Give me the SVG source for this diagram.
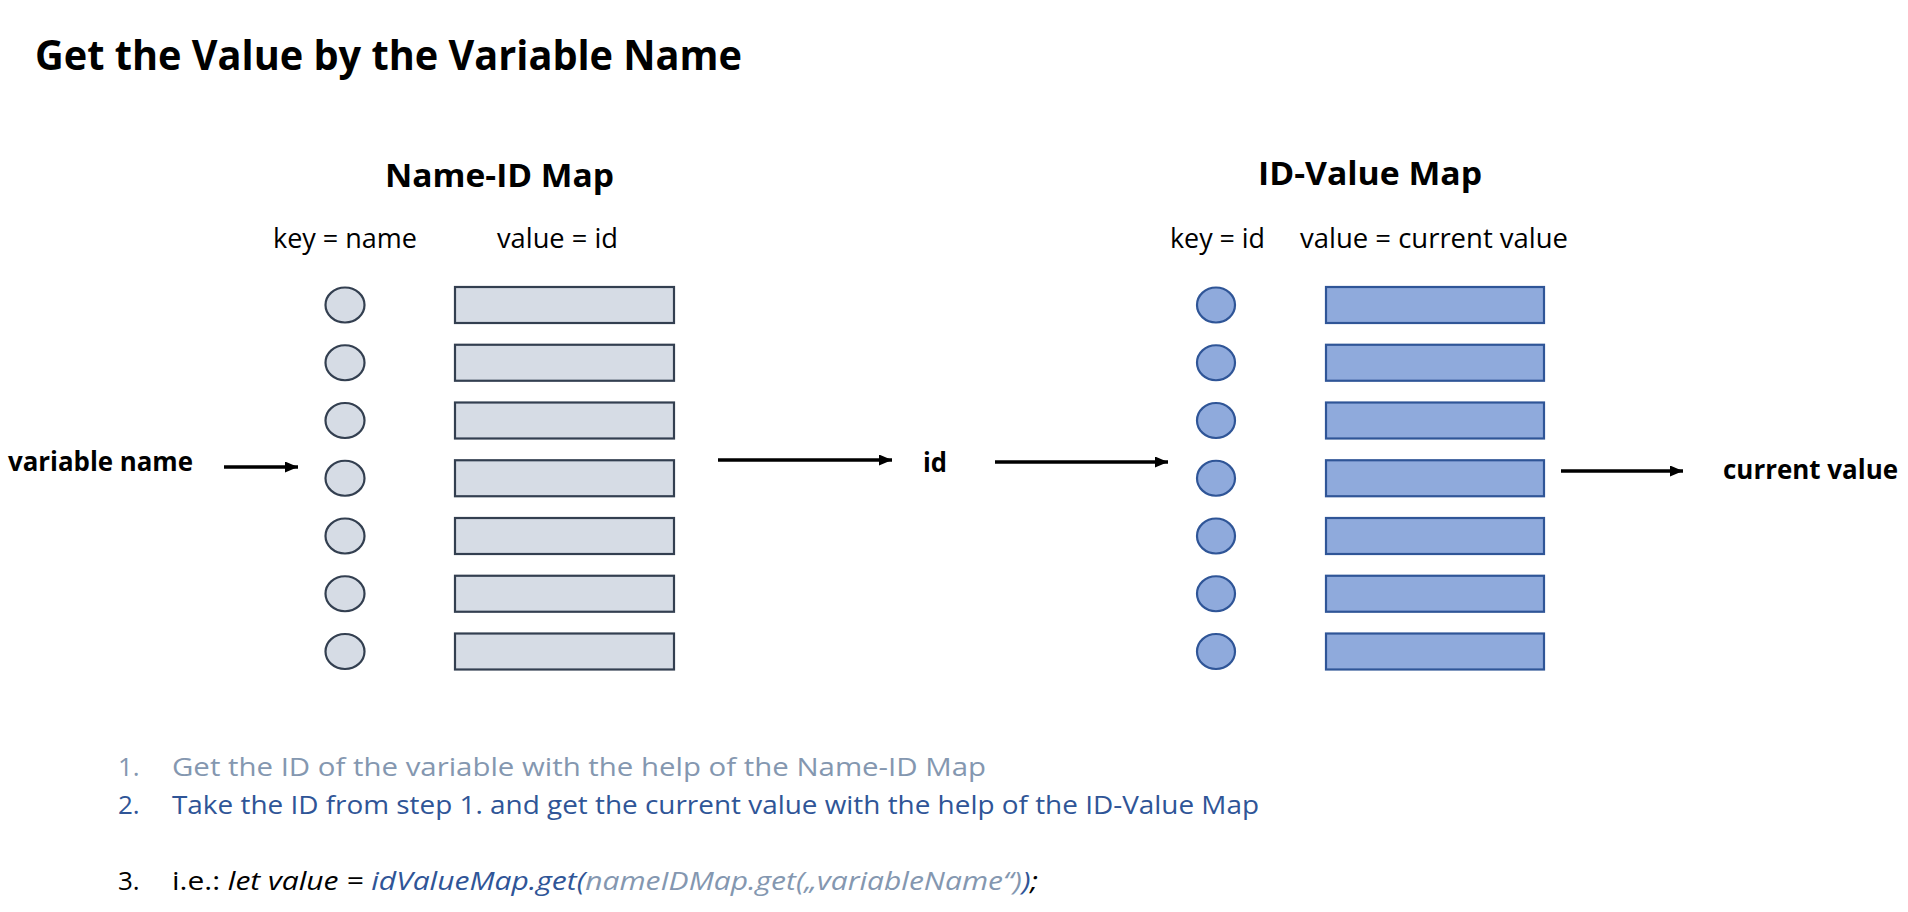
<svg xmlns="http://www.w3.org/2000/svg" width="1908" height="912" viewBox="0 0 1908 912">
<defs>
<style>
.t{font-family:"Open Sans","Liberation Sans",sans-serif;fill:#000}
.b{font-weight:bold}
.kl{fill:#D6DCE5;stroke:#333F50;stroke-width:2.2}
.kr{fill:#8FAADC;stroke:#2F5597;stroke-width:2.2}
.ar{stroke:#000;stroke-width:3.6;fill:none;marker-end:url(#ah)}
.g{fill:#8497B0}
.bl{fill:#2F5597}
</style>
<marker id="ah" markerUnits="userSpaceOnUse" markerWidth="13" markerHeight="11" refX="13" refY="5.5" orient="auto" viewBox="0 0 13 11">
<path d="M0,0 L13,5.5 L0,11 z" fill="#000"/>
</marker>
</defs>
<rect width="1908" height="912" fill="#fff"/>
<g id="title"><text class="t b" x="35" y="70" font-size="41" textLength="707" lengthAdjust="spacingAndGlyphs">Get the Value by the Variable Name</text></g>
<g id="nameIdMap">
<text class="t b" x="385" y="187" font-size="32" textLength="229" lengthAdjust="spacingAndGlyphs">Name-ID Map</text>
<text class="t" x="273" y="248" font-size="27" textLength="144" lengthAdjust="spacingAndGlyphs">key = name</text>
<text class="t" x="497" y="248" font-size="27" textLength="121" lengthAdjust="spacingAndGlyphs">value = id</text>
<ellipse class="kl" cx="345" cy="305" rx="19.5" ry="17.5"/><rect class="kl" x="455" y="287" width="219" height="36"/>
<ellipse class="kl" cx="345" cy="362.75" rx="19.5" ry="17.5"/><rect class="kl" x="455" y="344.75" width="219" height="36"/>
<ellipse class="kl" cx="345" cy="420.5" rx="19.5" ry="17.5"/><rect class="kl" x="455" y="402.5" width="219" height="36"/>
<ellipse class="kl" cx="345" cy="478.25" rx="19.5" ry="17.5"/><rect class="kl" x="455" y="460.25" width="219" height="36"/>
<ellipse class="kl" cx="345" cy="536" rx="19.5" ry="17.5"/><rect class="kl" x="455" y="518" width="219" height="36"/>
<ellipse class="kl" cx="345" cy="593.75" rx="19.5" ry="17.5"/><rect class="kl" x="455" y="575.75" width="219" height="36"/>
<ellipse class="kl" cx="345" cy="651.5" rx="19.5" ry="17.5"/><rect class="kl" x="455" y="633.5" width="219" height="36"/>
</g>
<g id="idValueMap">
<text class="t b" x="1258" y="185" font-size="32" textLength="224" lengthAdjust="spacingAndGlyphs">ID-Value Map</text>
<text class="t" x="1170" y="248" font-size="27" textLength="95" lengthAdjust="spacingAndGlyphs">key = id</text>
<text class="t" x="1300" y="248" font-size="27" textLength="268" lengthAdjust="spacingAndGlyphs">value = current value</text>
<ellipse class="kr" cx="1216" cy="305" rx="19" ry="17.5"/><rect class="kr" x="1326" y="287" width="218" height="36"/>
<ellipse class="kr" cx="1216" cy="362.75" rx="19" ry="17.5"/><rect class="kr" x="1326" y="344.75" width="218" height="36"/>
<ellipse class="kr" cx="1216" cy="420.5" rx="19" ry="17.5"/><rect class="kr" x="1326" y="402.5" width="218" height="36"/>
<ellipse class="kr" cx="1216" cy="478.25" rx="19" ry="17.5"/><rect class="kr" x="1326" y="460.25" width="218" height="36"/>
<ellipse class="kr" cx="1216" cy="536" rx="19" ry="17.5"/><rect class="kr" x="1326" y="518" width="218" height="36"/>
<ellipse class="kr" cx="1216" cy="593.75" rx="19" ry="17.5"/><rect class="kr" x="1326" y="575.75" width="218" height="36"/>
<ellipse class="kr" cx="1216" cy="651.5" rx="19" ry="17.5"/><rect class="kr" x="1326" y="633.5" width="218" height="36"/>
</g>
<g id="labels">
<text class="t b" x="8" y="471" font-size="26" textLength="185" lengthAdjust="spacingAndGlyphs">variable name</text>
<text class="t b" x="923" y="472" font-size="26" textLength="24" lengthAdjust="spacingAndGlyphs">id</text>
<text class="t b" x="1723" y="479" font-size="26" textLength="175" lengthAdjust="spacingAndGlyphs">current value</text>
</g>
<g id="connectors">
<line class="ar" x1="224" y1="467" x2="298" y2="467"/>
<line class="ar" x1="718" y1="460" x2="892" y2="460"/>
<line class="ar" x1="995" y1="462" x2="1168" y2="462"/>
<line class="ar" x1="1561" y1="471" x2="1683" y2="471"/>
</g>
<g id="steps">
<text class="t g" x="118" y="776" font-size="26">1.</text>
<text class="t g" x="172" y="776" font-size="26" textLength="814" lengthAdjust="spacingAndGlyphs">Get the ID of the variable with the help of the Name-ID Map</text>
<text class="t bl" x="118" y="814" font-size="26">2.</text>
<text class="t bl" x="172" y="814" font-size="26" textLength="1087" lengthAdjust="spacingAndGlyphs">Take the ID from step 1. and get the current value with the help of the ID-Value Map</text>
<text class="t" x="118" y="890" font-size="26">3.</text>
<text class="t" x="172" y="890" font-size="26" textLength="866" lengthAdjust="spacingAndGlyphs">i.e.: <tspan font-style="italic">let value = </tspan><tspan font-style="italic" class="bl">idValueMap.get(</tspan><tspan font-style="italic" class="g">nameIDMap.get(„variableName“)</tspan><tspan font-style="italic" class="bl">)</tspan><tspan font-style="italic">;</tspan></text>
</g>
</svg>
